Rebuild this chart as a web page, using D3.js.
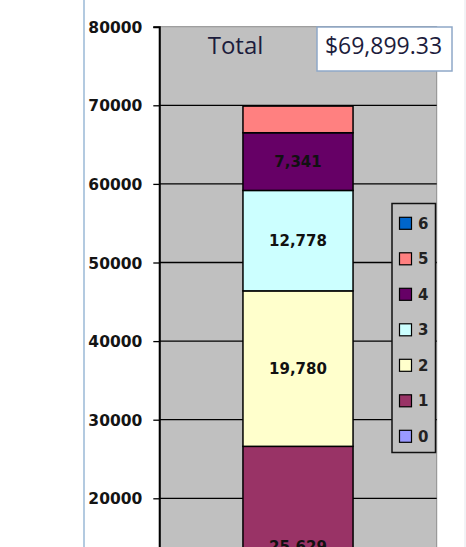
<!DOCTYPE html>
<html><head><meta charset="utf-8">
<script src="https://cdn.jsdelivr.net/npm/d3@7"></script>
<style>html,body{margin:0;padding:0;background:#fff;overflow:hidden}</style>
</head><body>
<script>
const categories = ["Total"];
const seriesNames = ["0","1","2","3","4","5","6"];
const seriesValues = [982, 25629, 19780, 12778, 7341, 3389.33, 0];
const seriesColors = ["#9999FF","#993366","#FFFFCC","#CCFFFF","#660066","#FF8080","#0066CC"];
const labelShown = [false, true, true, true, true, false, false];
const tickValues = [20000,30000,40000,50000,60000,70000,80000];
const totalLabel = "$69,899.33";

const W = 466, H = 547;
const svg = d3.select("body").append("svg").attr("width", W).attr("height", H);

// frame lines
svg.append("line").attr("x1",84).attr("x2",84).attr("y1",0).attr("y2",H).attr("stroke","#9ab8d6").attr("stroke-width",1.5);
svg.append("line").attr("x1",465).attr("x2",465).attr("y1",0).attr("y2",H).attr("stroke","#e4e6ec").attr("stroke-width",1);

const plotL = 159.3, plotR = 436.7, plotT = 26.7, plotB = 700;
const y = d3.scaleLinear().domain([0,80000]).range([655.5, 26.7]);
const x = d3.scaleBand().domain(categories).range([plotL, plotR]).paddingInner(0).paddingOuter(0.76);

// plot area
svg.append("rect").attr("x",plotL).attr("y",plotT).attr("width",plotR-plotL).attr("height",plotB-plotT)
  .attr("fill","#c0c0c0").attr("stroke","#8c8c8c").attr("stroke-width",1);

// gridlines
svg.append("g").selectAll("line").data(tickValues.filter(v=>v<80000)).join("line")
  .attr("x1",plotL).attr("x2",plotR).attr("y1",d=>y(d)).attr("y2",d=>y(d))
  .attr("stroke","#000").attr("stroke-width",1.3);

// axis
const axis = d3.axisLeft(y).tickValues(tickValues).tickSize(6).tickPadding(11).tickFormat(d3.format("d"));
const ag = svg.append("g").attr("transform",`translate(${plotL},0)`).call(axis);
ag.select(".domain").attr("stroke","#000").attr("stroke-width",2);
ag.selectAll(".tick line").attr("stroke","#000").attr("stroke-width",1.3);
ag.selectAll(".tick text").attr("font-family","DejaVu Sans, Verdana, sans-serif").attr("font-weight","bold")
  .attr("font-size","15.5px").attr("fill","#141414").attr("dy","0.36em");

// stacked bars
const stackData = [Object.fromEntries(seriesNames.map((s,i)=>[s, seriesValues[i]]))];
const stacked = d3.stack().keys(seriesNames)(stackData);
const bars = svg.append("g");
stacked.forEach((layer,i)=>{
  const d = layer[0];
  if (d[1]-d[0] <= 0) return;
  bars.append("rect").attr("x",x(categories[0])).attr("width",x.bandwidth())
    .attr("y",y(d[1])).attr("height",y(d[0])-y(d[1]))
    .attr("fill",seriesColors[i]).attr("stroke","#000").attr("stroke-width",1.5);
});
stacked.forEach((layer,i)=>{
  const d = layer[0];
  if (!labelShown[i]) return;
  bars.append("text").attr("x",x(categories[0])+x.bandwidth()/2).attr("y",(y(d[0])+y(d[1]))/2)
    .attr("dy","0.36em").attr("text-anchor","middle")
    .attr("font-family","DejaVu Sans, Verdana, sans-serif").attr("font-weight","bold").attr("font-size","15px")
    .attr("fill","#111").text(d3.format(",")(seriesValues[i]));
});

// title & total box
svg.append("text").attr("x",235.5).attr("y",54).attr("text-anchor","middle")
  .attr("font-family","Open Sans, sans-serif").attr("font-size","24px").attr("fill","#1c1c3c").text(categories[0]);
svg.append("rect").attr("x",317).attr("y",27).attr("width",135).attr("height",44)
  .attr("fill","#fff").attr("stroke","#8fa8c8").attr("stroke-width",1.5);
svg.append("text").attr("x",383.5).attr("y",54).attr("text-anchor","middle")
  .attr("font-family","Open Sans, sans-serif").attr("font-size","23px").attr("fill","#1c1c3c").text(totalLabel);

// legend
const lg = svg.append("g");
lg.append("rect").attr("x",392).attr("y",203.5).attr("width",43.5).attr("height",249)
  .attr("fill","#c0c0c0").attr("stroke","#111").attr("stroke-width",1.5);
const order = seriesNames.map((s,i)=>i).reverse();
order.forEach((i,k)=>{
  const cy = 223.3 + k*35.5;
  lg.append("rect").attr("x",399.5).attr("y",cy-6).attr("width",12).attr("height",12)
    .attr("fill",seriesColors[i]).attr("stroke","#000").attr("stroke-width",1.2);
  lg.append("text").attr("x",418).attr("y",cy).attr("dy","0.36em")
    .attr("font-family","DejaVu Sans, Verdana, sans-serif").attr("font-weight","bold").attr("font-size","15px")
    .attr("fill","#222").text(seriesNames[i]);
});
</script>
</body></html>
